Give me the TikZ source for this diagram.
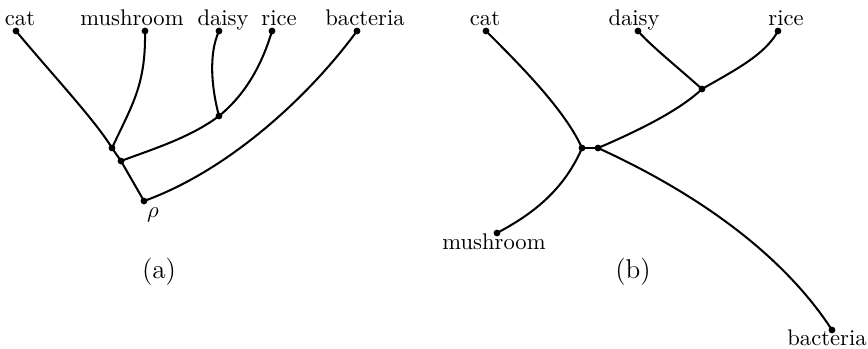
\documentclass[tikz,border=0pt]{standalone}
\begin{document}
\begin{tikzpicture}[x=0.01555cm,y=-0.01555cm,
  dot/.style={circle,fill=black,inner sep=0pt,minimum size=3pt},
  lbl/.style={anchor=base,inner sep=0pt},
  caplbl/.style={anchor=base,inner sep=0pt,font=\large},
  edge/.style={line width=0.9pt}]
\useasboundingbox (0,0) rectangle (868,349);
% ---- (a) ----
\node[dot] (acat) at (16,31) {};
\node[dot] (amush) at (145,31) {};
\node[dot] (adaisy) at (219,31) {};
\node[dot] (arice) at (272,31) {};
\node[dot] (abact) at (357,31) {};
\node[dot] (am) at (112,148) {};
\node[dot] (ad) at (219,116) {};
\node[dot] (ax) at (121,161) {};
\node[dot] (arho) at (144,201) {};
\node[lbl] at (20,25) {cat};
\node[lbl] at (132,25) {mushroom};
\node[lbl] at (223,25) {daisy};
\node[lbl] at (279,25) {rice};
\node[lbl] at (365,25) {bacteria};
\node[lbl] at (153,217) {$\rho$};
\node[caplbl] at (159,278) {(a)};
\draw[edge] (acat.center) .. controls (50,72) and (95,120) .. (am.center);
\draw[edge] (amush.center) .. controls (146,85) and (132,105) .. (am.center);
\draw[edge] (adaisy.center) .. controls (208,55) and (212,90) .. (ad.center);
\draw[edge] (arice.center) .. controls (262,65) and (245,95) .. (ad.center);
\draw[edge] (ad.center) .. controls (190,138) and (150,150) .. (ax.center);
\draw[edge] (am.center) -- (ax.center) -- (arho.center);
\draw[edge] (arho.center) .. controls (230,170) and (310,95) .. (abact.center);
% ---- (b) ----
\node[dot] (bcat) at (486,31) {};
\node[dot] (bdaisy) at (638,31) {};
\node[dot] (brice) at (778,31) {};
\node[dot] (bdr) at (702,89) {};
\node[dot] (bL) at (582,148) {};
\node[dot] (bR) at (598,148) {};
\node[dot] (bmush) at (497,233) {};
\node[dot] (bbact) at (832,330) {};
\node[lbl] at (485,25) {cat};
\node[lbl] at (634,25) {daisy};
\node[lbl] at (786,25) {rice};
\node[lbl] at (494,249) {mushroom};
\node[lbl] at (827,345) {bacteria};
\node[caplbl] at (633,278) {(b)};
\draw[edge] (bcat.center) .. controls (520,65) and (565,110) .. (bL.center);
\draw[edge] (bmush.center) .. controls (525,218) and (562,195) .. (bL.center);
\draw[edge] (bL.center) -- (bR.center);
\draw[edge] (bR.center) .. controls (640,130) and (680,110) .. (bdr.center);
\draw[edge] (bdr.center) .. controls (675,65) and (650,45) .. (bdaisy.center);
\draw[edge] (bdr.center) .. controls (735,70) and (765,55) .. (brice.center);
\draw[edge] (bR.center) .. controls (690,190) and (780,250) .. (bbact.center);
\end{tikzpicture}
\end{document}
